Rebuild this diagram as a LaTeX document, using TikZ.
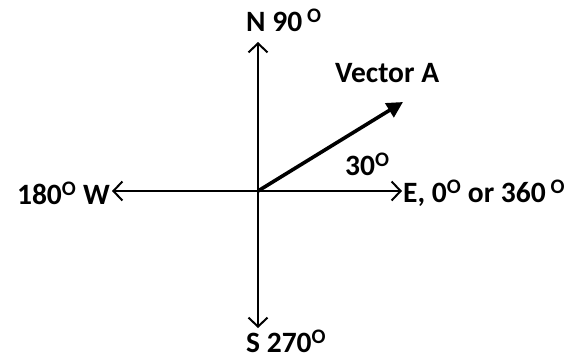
\documentclass[tikz,border=0pt]{standalone}
\usepackage{fontspec}
\setmainfont{Carlito}
\usetikzlibrary{arrows.meta}
\definecolor{inkc}{RGB}{0,0,0}
\tikzset{
  axis/.style={draw=inkc, line width=2pt,
    -{Straight Barb[length=9pt, width=19pt, line width=2pt]}},
  vec/.style={draw=inkc, line width=3.6pt, -{Triangle[length=16pt, width=16pt]}},
  lbl/.style={font=\fontsize{29.5}{31}\selectfont\bfseries, text=inkc, inner sep=0pt},
}
\newcommand{\dg}{\textsuperscript{O}}

\begin{document}
\begin{tikzpicture}[x=1pt, y=-1pt]
  \useasboundingbox (0,0) rectangle (581,360);

  % the four compass points round the origin
  \coordinate (origin) at (258,191);
  \coordinate (north) at (258,42);
  \coordinate (south) at (258,328);
  \coordinate (west) at (112,191);
  \coordinate (east) at (402,191);
  \coordinate (tipA) at (403,102);

  \node[lbl, anchor=west] (nlabel) at (246,20) {N 90\,\dg};
  \node[lbl, anchor=west] (slabel) at (246,341) {S 270\dg};
  \node[lbl, anchor=east] (wlabel) at (110,193) {180\dg{} W};
  \node[lbl, anchor=west] (elabel) at (403,193) {E, 0\dg{} or 360\,\dg};
  \node[lbl, anchor=west] (alabel) at (335,73) {Vector A};
  \node[lbl, anchor=west] (anglabel) at (345,164) {30\dg};

  \draw[axis] (origin) -- (north);
  \draw[axis] (origin) -- (south);
  \draw[axis] (origin) -- (west);
  \draw[axis] (origin) -- (east);
  \draw[vec] (origin) -- (tipA);

\end{tikzpicture}
\end{document}
